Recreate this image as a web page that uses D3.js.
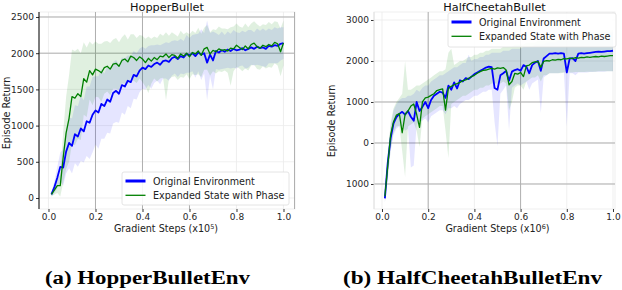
<!DOCTYPE html>
<html>
<head>
<meta charset="utf-8">
<script src="https://cdn.jsdelivr.net/npm/d3@7"></script>
<style>
  body { margin: 0; background: #fff; }
</style>
</head>
<body>
<svg id="chart"></svg>
<script>
// gradient steps (fraction of the run), shared by both panels
const steps = [
  0.0125, 0.025, 0.0375, 0.05, 0.0625, 0.075, 0.0875, 0.1, 0.1125, 0.125,
  0.1375, 0.15, 0.1625, 0.175, 0.1875, 0.2, 0.2125, 0.225, 0.2375, 0.25,
  0.2625, 0.275, 0.2875, 0.3, 0.3125, 0.325, 0.3375, 0.35, 0.3625, 0.375,
  0.3875, 0.4, 0.4125, 0.425, 0.4375, 0.45, 0.4625, 0.475, 0.4875, 0.5,
  0.5125, 0.525, 0.5375, 0.55, 0.5625, 0.575, 0.5875, 0.6, 0.6125, 0.625,
  0.6375, 0.65, 0.6625, 0.675, 0.6875, 0.7, 0.7125, 0.725, 0.7375, 0.75,
  0.7625, 0.775, 0.7875, 0.8, 0.8125, 0.825, 0.8375, 0.85, 0.8625, 0.875,
  0.8875, 0.9, 0.9125, 0.925, 0.9375, 0.95, 0.9625, 0.975, 0.9875, 1.0,
];

const seriesNames = ['Original Environment', 'Expanded State with Phase'];

// HopperBullet
const hopperOrigMean = [
  50, 150, 280, 430, 420, 640, 760, 720, 880, 850,
  960, 920, 1060, 1040, 1150, 1210, 1180, 1300, 1270, 1360,
  1330, 1450, 1480, 1440, 1560, 1540, 1620, 1600, 1700, 1680,
  1760, 1800, 1780, 1830, 1810, 1850, 1870, 1840, 1890, 1900,
  1880, 1930, 1950, 1920, 1960, 1940, 1990, 1970, 2000, 1960,
  2010, 1980, 2000, 1870, 1980, 1900, 2030, 2010, 2040, 2020,
  2050, 2030, 2060, 2040, 2050, 2070, 2040, 2060, 2080, 2060,
  2090, 2070, 2080, 2060, 2100, 2090, 2110, 2100, 2130, 2140,
];
const hopperOrigLo = [
  20, 70, 130, 230, 170, 340, 410, 340, 480, 430,
  510, 490, 580, 540, 630, 740, 680, 820, 820, 900,
  890, 1030, 1050, 1040, 1180, 1150, 1270, 1240, 1370, 1360,
  1460, 1510, 1500, 1560, 1510, 1590, 1620, 1570, 1650, 1650,
  1620, 1690, 1720, 1670, 1720, 1710, 1730, 1730, 1750, 1660,
  1750, 1630, 1720, 1350, 1680, 1500, 1780, 1770, 1780, 1790,
  1800, 1790, 1800, 1790, 1820, 1830, 1790, 1800, 1840, 1830,
  1840, 1830, 1820, 1810, 1860, 1860, 1860, 1860, 1900, 1920,
];
const hopperOrigHi = [
  80, 230, 430, 630, 670, 940, 1110, 1100, 1280, 1270,
  1410, 1350, 1540, 1540, 1670, 1680, 1680, 1780, 1720, 1820,
  1770, 1870, 1910, 1840, 1940, 1930, 1970, 1960, 2030, 2000,
  2060, 2090, 2060, 2100, 2110, 2110, 2120, 2110, 2130, 2150,
  2140, 2170, 2180, 2170, 2200, 2170, 2250, 2210, 2250, 2260,
  2270, 2330, 2280, 2450, 2280, 2300, 2280, 2250, 2300, 2250,
  2300, 2270, 2320, 2290, 2280, 2310, 2290, 2320, 2320, 2290,
  2340, 2310, 2340, 2310, 2340, 2320, 2360, 2340, 2360, 2360,
];
const hopperPhaseMean = [
  50, 110, 170, 170, 560, 900, 1100, 1400, 1380, 1440,
  1400, 1650, 1600, 1760, 1700, 1780, 1760, 1730, 1800, 1820,
  1780, 1850, 1860, 1820, 1900, 1920, 1880, 1960, 1940, 1900,
  1950, 1920, 1870, 1930, 1890, 1940, 1910, 1960, 1950, 1990,
  1940, 1980, 1970, 1930, 1990, 1960, 2000, 1950, 2010, 1990,
  2030, 1970, 2060, 2080, 1990, 2040, 2020, 2060, 2040, 2050,
  2030, 2070, 2060, 2110, 2080, 2050, 2100, 2060, 2120, 2140,
  2090, 2070, 2110, 2090, 2120, 2100, 2150, 2130, 2020, 2140,
];
const hopperPhaseLo = [
  20, 50, 70, 20, 210, 400, 500, 750, 730, 820,
  800, 1150, 1120, 1360, 1280, 1400, 1390, 1330, 1440, 1470,
  1420, 1510, 1510, 1490, 1580, 1580, 1570, 1660, 1620, 1590,
  1650, 1600, 1540, 1450, 1580, 1650, 1610, 1650, 1660, 1350,
  1640, 1670, 1680, 1630, 1670, 1660, 1710, 1640, 1710, 1700,
  1710, 1670, 1770, 1770, 1690, 1750, 1720, 1750, 1740, 1760,
  1730, 1550, 1750, 1810, 1790, 1750, 1790, 1760, 1830, 1840,
  1780, 1770, 1820, 1790, 1810, 1800, 1860, 1830, 1680, 1830,
];
const hopperPhaseHi = [
  80, 170, 270, 320, 910, 1400, 1700, 2050, 2030, 2060,
  2000, 2150, 2080, 2160, 2120, 2160, 2130, 2130, 2160, 2170,
  2140, 2190, 2210, 2150, 2220, 2260, 2190, 2260, 2260, 2210,
  2250, 2240, 2200, 2230, 2200, 2230, 2210, 2270, 2240, 2290,
  2240, 2290, 2260, 2230, 2310, 2260, 2290, 2260, 2310, 2280,
  2350, 2270, 2350, 2390, 2290, 2330, 2320, 2370, 2340, 2340,
  2330, 2360, 2370, 2410, 2370, 2350, 2410, 2360, 2410, 2440,
  2400, 2370, 2400, 2390, 2430, 2400, 2440, 2430, 2340, 2450,
];

// HalfCheetahBullet
const cheetahOrigMean = [
  -1350, -480, 120, 480, 630, 710, 760, 690, 780, 640,
  540, 1000, 780, 880, 1000, 850, 1050, 1150, 1200, 1250,
  1230, 1100, 1400, 1300, 1480, 1330, 1530, 1500, 1580, 1560,
  1620, 1680, 1720, 1760, 1800, 1840, 1860, 1850, 1340, 1300,
  1650, 1700, 1760, 1520, 1740, 1780, 1800, 1760, 1900, 1860,
  1700, 1900, 1960, 2000, 1760, 2060, 2120, 2180, 2180, 2190,
  2180, 2190, 2180, 1720, 2060, 2070, 2000, 2180, 2190, 2180,
  2190, 2200, 2210, 2220, 2230, 2220, 2230, 2240, 2240, 2250,
];
const cheetahOrigLo = [
  -1450, -800, -200, 200, 350, 400, 420, 300, 350, -600,
  -550, 450, 500, 550, 600, 500, 650, 700, 750, 800,
  800, 700, 850, 850, 900, 850, 950, 1000, 1050, 1050,
  1100, 1150, 1150, 1200, 1250, 1250, 1300, 1300, 500, -80,
  1200, 1300, 1400, 300, 1350, 1400, 1450, 1400, 1450, 1500,
  1300, 1450, 1500, 1550, 730, 1600, 1650, 1700, 1700, 1700,
  1700, 1720, 1720, 400, 1700, 1700, 1650, 1720, 1720, 1720,
  1720, 1730, 1730, 1740, 1740, 1740, 1740, 1750, 1750, 1750,
];
const cheetahOrigHi = [
  -1200, -250, 400, 800, 950, 1050, 1100, 1100, 1150, 1150,
  1200, 1300, 1250, 1350, 1400, 1400, 1500, 1550, 1600, 1650,
  1650, 1700, 1750, 1800, 1850, 1850, 1900, 1950, 1950, 2150,
  2000, 2050, 2050, 2100, 2100, 2150, 2150, 2200, 2200, 2200,
  2200, 2250, 2250, 2250, 2300, 2300, 2300, 2300, 2350, 2350,
  2350, 2350, 2400, 2400, 2400, 2400, 2450, 2450, 2450, 2450,
  2500, 2500, 2500, 2500, 2500, 2550, 2550, 2550, 2550, 2600,
  2600, 2600, 2600, 2650, 2650, 2650, 2700, 2700, 2700, 2700,
];
const cheetahPhaseMean = [
  -1300, -550, 200, 520, 680, 720, 250, 700, 780, 900,
  950, 700, 380, 1000, 1100, 1120, 1160, 1200, 1280, 1300,
  1320, 800, 1340, 1380, 1420, 1450, 1480, 1520, 1540, 1580,
  1620, 1650, 1700, 1740, 1770, 1780, 1800, 1820, 1800, 1830,
  1820, 1840, 1780, 1420, 1500, 1700, 1680, 1720, 1620, 1880,
  1900, 1960, 1980, 1990, 1850, 1990, 2010, 2000, 2030, 2020,
  2040, 2030, 2060, 2050, 2070, 2060, 2080, 2070, 2090, 2080,
  2100, 2090, 2100, 2110, 2100, 2120, 2110, 2120, 2130, 2130,
];
const cheetahPhaseLo = [
  -1450, -900, -150, 250, 400, 420, -200, -830, 400, 450,
  500, 300, -100, 600, 650, 700, 750, 800, 850, 900,
  900, 300, -370, 950, 1000, 1050, 1100, 1150, 1150, 1200,
  1250, 1300, 1300, 1350, 1350, 1400, 1400, 1450, 1450, 1450,
  1450, 1500, 1450, 800, 1000, 1350, 1400, 1400, 1300, 1500,
  1550, 1600, 1600, 1650, 1500, 1650, 1650, 1700, 1700, 1700,
  1700, 1700, 1720, 1720, 1720, 1720, 1730, 1730, 1730, 1730,
  1740, 1740, 1740, 1740, 1750, 1750, 1750, 1750, 1750, 1750,
];
const cheetahPhaseHi = [
  -1150, -300, 500, 850, 1000, 1100, 1200, 2000, 1300, 1300,
  1350, 1400, 1400, 1450, 1500, 1550, 1600, 1650, 1700, 1750,
  1750, 1800, 2200, 2300, 1900, 1950, 2000, 2000, 2050, 2100,
  2100, 2150, 2150, 2200, 2200, 2250, 2250, 2300, 2300, 2300,
  2300, 2350, 2350, 2350, 2350, 2400, 2400, 2400, 2400, 2450,
  2450, 2450, 2450, 2500, 2500, 2500, 2500, 2500, 2550, 2550,
  2550, 2550, 2600, 2600, 2600, 2600, 2650, 2650, 2650, 2650,
  2650, 2700, 2700, 2700, 2700, 2750, 2750, 2750, 2750, 2750,
];

// ticks
const xTicks = [0, 0.2, 0.4, 0.6, 0.8, 1.0];
const xTickLabels = ['0.0', '0.2', '0.4', '0.6', '0.8', '1.0'];
const hopperYTicks = [0, 500, 1000, 1500, 2000, 2500];
const hopperYTickLabels = ['0', '500', '1000', '1500', '2000', '2500'];
const cheetahYTicks = [-1000, 0, 1000, 2000, 3000];
const cheetahYTickLabels = ['1000', '0', '1000', '2000', '3000'];

const config = {
  width: 622,
  height: 290,
  font: 'DejaVu Sans, sans-serif',
  blue: '#0000ff',
  green: '#008000',
  lightGrid: '#ebebeb',
  darkGrid: '#b0b0b0',
};

const panels = [
  {
    title: 'HopperBullet',
    caption: '(a) HopperBulletEnv',
    captionX: 147.5,
    captionLen: 205,
    exponent: '5',
    left: 39, right: 295, top: 12, bottom: 209,
    xDomain: [-0.0404, 1.049],
    yDomain: [-152, 2569],
    yTicks: hopperYTicks, yTickLabels: hopperYTickLabels,
    darkX: [0.2, 0.4, 0.6], darkY: [2000, 2500], darkRight: true,
    spine: '#000',
    yLabelX: 9.5, yLabelY: 113,
    legend: { x: 122, y: 172, w: 167, h: 33 },
    orig: [hopperOrigMean, hopperOrigLo, hopperOrigHi],
    phase: [hopperPhaseMean, hopperPhaseLo, hopperPhaseHi],
  },
  {
    title: 'HalfCheetahBullet',
    caption: '(b) HalfCheetahBulletEnv',
    captionX: 472.5,
    captionLen: 259,
    exponent: '6',
    left: 374, right: 615, top: 12, bottom: 209,
    xDomain: [-0.0346, 1.0087],
    yDomain: [-1610, 3195],
    yTicks: cheetahYTicks, yTickLabels: cheetahYTickLabels,
    darkX: [0.2, 0.6], darkY: [-1000, 0, 1000], darkRight: false,
    spine: '#e0e0e0',
    yLabelX: 334.5, yLabelY: 121,
    legend: { x: 448, y: 13, w: 168, h: 34 },
    orig: [cheetahOrigMean, cheetahOrigLo, cheetahOrigHi],
    phase: [cheetahPhaseMean, cheetahPhaseLo, cheetahPhaseHi],
  },
];

const svg = d3.select('#chart')
  .attr('width', config.width)
  .attr('height', config.height)
  .attr('viewBox', [0, 0, config.width, config.height])
  .style('font-family', config.font);

panels.forEach((p, pi) => {
  const x = d3.scaleLinear(p.xDomain, [p.left, p.right]);
  const y = d3.scaleLinear(p.yDomain, [p.bottom, p.top]);
  const g = svg.append('g');

  /**
   * grid
   */
  g.append('g').selectAll('line').data(xTicks).join('line')
    .attr('x1', (d) => x(d)).attr('x2', (d) => x(d))
    .attr('y1', p.top).attr('y2', p.bottom)
    .attr('stroke', config.lightGrid).attr('stroke-width', 0.8);
  g.append('g').selectAll('line').data(p.yTicks).join('line')
    .attr('x1', p.left).attr('x2', p.right)
    .attr('y1', (d) => y(d)).attr('y2', (d) => y(d))
    .attr('stroke', config.lightGrid).attr('stroke-width', 0.8);
  g.append('rect')
    .attr('x', p.left).attr('y', p.top)
    .attr('width', p.right - p.left).attr('height', p.bottom - p.top)
    .attr('fill', 'none').attr('stroke', config.lightGrid).attr('stroke-width', 0.8);

  g.append('g').selectAll('line').data(p.darkX).join('line')
    .attr('x1', (d) => x(d)).attr('x2', (d) => x(d))
    .attr('y1', p.top).attr('y2', p.bottom)
    .attr('stroke', config.darkGrid).attr('stroke-width', 1);
  g.append('g').selectAll('line').data(p.darkY).join('line')
    .attr('x1', p.left).attr('x2', p.right)
    .attr('y1', (d) => y(d)).attr('y2', (d) => y(d))
    .attr('stroke', config.darkGrid).attr('stroke-width', 1);
  if (p.darkRight) {
    g.append('line')
      .attr('x1', p.right - 0.5).attr('x2', p.right - 0.5)
      .attr('y1', p.top).attr('y2', p.bottom)
      .attr('stroke', config.darkGrid).attr('stroke-width', 1);
  }

  /**
   * bands and lines
   */
  const clipId = `clip${pi}`;
  g.append('defs').append('clipPath').attr('id', clipId)
    .append('rect')
    .attr('x', p.left).attr('y', p.top)
    .attr('width', p.right - p.left).attr('height', p.bottom - p.top);
  const plot = g.append('g').attr('clip-path', `url(#${clipId})`);
  const idx = d3.range(steps.length);

  const band = (lo, hi) => d3.area()
    .x((i) => x(steps[i]))
    .y0((i) => y(lo[i]))
    .y1((i) => y(hi[i]));
  const line = (mean) => d3.line()
    .x((i) => x(steps[i]))
    .y((i) => y(mean[i]));

  plot.append('path')
    .attr('d', band(p.orig[1], p.orig[2])(idx))
    .attr('fill', config.blue).attr('fill-opacity', 0.1);
  plot.append('path')
    .attr('d', band(p.phase[1], p.phase[2])(idx))
    .attr('fill', config.green).attr('fill-opacity', 0.12);
  plot.append('path')
    .attr('d', line(p.orig[0])(idx))
    .attr('fill', 'none').attr('stroke', config.blue)
    .attr('stroke-width', 1.8).attr('stroke-linejoin', 'round');
  plot.append('path')
    .attr('d', line(p.phase[0])(idx))
    .attr('fill', 'none').attr('stroke', config.green)
    .attr('stroke-width', 1.3).attr('stroke-linejoin', 'round');

  /**
   * axes
   */
  const xAxis = d3.axisBottom(x)
    .tickValues(xTicks)
    .tickFormat((d, i) => xTickLabels[i])
    .tickSize(3).tickPadding(2);
  g.append('g')
    .attr('transform', `translate(0,${p.bottom})`)
    .call(xAxis)
    .call((a) => a.select('.domain').remove())
    .call((a) => a.selectAll('.tick line').attr('stroke', '#333'))
    .call((a) => a.selectAll('.tick text')
      .attr('fill', '#262626').style('font-size', '9px').style('font-family', config.font));

  const yAxis = d3.axisLeft(y)
    .tickValues(p.yTicks)
    .tickFormat((d, i) => p.yTickLabels[i])
    .tickSize(3).tickPadding(2);
  g.append('g')
    .attr('transform', `translate(${p.left},0)`)
    .call(yAxis)
    .call((a) => a.select('.domain').remove())
    .call((a) => a.selectAll('.tick line').attr('stroke', '#333'))
    .call((a) => a.selectAll('.tick text')
      .attr('fill', '#262626').style('font-size', '9px').style('font-family', config.font));

  g.append('line')
    .attr('x1', p.left).attr('x2', p.left)
    .attr('y1', p.top).attr('y2', p.bottom)
    .attr('stroke', p.spine).attr('stroke-width', 1);

  /**
   * legend
   */
  const lg = g.append('g').attr('transform', `translate(${p.legend.x},${p.legend.y})`);
  lg.append('rect')
    .attr('width', p.legend.w).attr('height', p.legend.h)
    .attr('rx', 2)
    .attr('fill', '#fff').attr('fill-opacity', 0.9)
    .attr('stroke', '#dddddd').attr('stroke-width', 0.8);
  const rows = [
    { name: seriesNames[0], color: config.blue, width: 3 },
    { name: seriesNames[1], color: config.green, width: 1.3 },
  ];
  rows.forEach((r, i) => {
    const ry = 9 + i * 14.3;
    lg.append('line')
      .attr('x1', 3.5).attr('x2', 23.5)
      .attr('y1', ry).attr('y2', ry)
      .attr('stroke', r.color).attr('stroke-width', r.width);
    lg.append('text')
      .attr('x', 31).attr('y', ry + 3.5)
      .attr('fill', '#222')
      .style('font-size', '9.6px')
      .text(r.name);
  });

  /**
   * titles
   */
  const cx = (p.left + p.right) / 2;
  g.append('text')
    .attr('x', cx).attr('y', 10.5)
    .attr('text-anchor', 'middle')
    .attr('fill', '#111')
    .style('font-size', '11.3px')
    .text(p.title);

  const xl = g.append('text')
    .attr('x', x(0.5)).attr('y', 232)
    .attr('text-anchor', 'middle')
    .attr('fill', '#222')
    .style('font-size', '9.6px');
  xl.append('tspan').text('Gradient Steps (x10');
  xl.append('tspan').attr('dy', -3.5).style('font-size', '6.5px').text(p.exponent);
  xl.append('tspan').attr('dy', 3.5).text(')');

  g.append('text')
    .attr('transform', `translate(${p.yLabelX},${p.yLabelY}) rotate(-90)`)
    .attr('text-anchor', 'middle')
    .attr('fill', '#222')
    .style('font-size', '9.6px')
    .text('Episode Return');

  g.append('text')
    .attr('x', p.captionX).attr('y', 284)
    .attr('text-anchor', 'middle')
    .attr('textLength', p.captionLen)
    .attr('lengthAdjust', 'spacingAndGlyphs')
    .attr('fill', '#000')
    .style('font-family', 'Liberation Serif, serif')
    .style('font-weight', 'bold')
    .style('font-size', '18.5px')
    .text(p.caption);
});
</script>
</body>
</html>
